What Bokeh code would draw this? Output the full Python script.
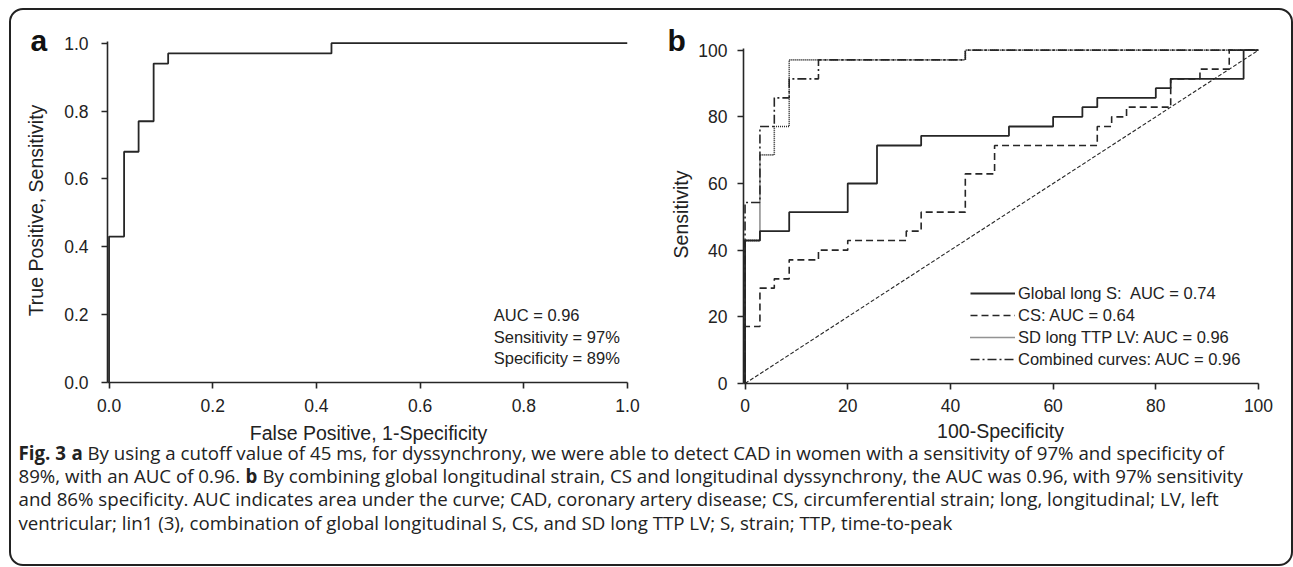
import math
from bokeh.plotting import figure
from bokeh.layouts import row, column
from bokeh.models import (Range1d, FixedTicker, PrintfTickFormatter,
                          InlineStyleSheet, Legend, LegendItem)
from bokeh.core.properties import value
from bokeh.embed import file_html
from bokeh.resources import INLINE

# ---------------- data ----------------
# Panel a: ROC of SD long TTP (false positive rate, sensitivity)
a_fpr = [0.0, 0.029, 0.057, 0.086, 0.114, 0.429, 1.0]
a_tpr = [0.43, 0.68, 0.77, 0.94, 0.97, 1.0, 1.0]
a_stats = ["AUC = 0.96", "Sensitivity = 97%", "Specificity = 89%"]
a_ticks = [0.0, 0.2, 0.4, 0.6, 0.8, 1.0]
a_xtitle = "False Positive, 1-Specificity"
a_ytitle = "True Positive, Sensitivity"

# Panel b: ROC curves (100-specificity, sensitivity)
glob_fpr = [0, 2.9, 8.6, 20.0, 25.7, 34.3, 51.4, 60.0, 65.7, 68.6, 80.0, 82.9, 97.1, 100]
glob_tpr = [42.9, 45.7, 51.4, 60.0, 71.4, 74.3, 77.1, 80.0, 82.9, 85.7, 88.6, 91.4, 100, 100]
cs_fpr = [0, 2.9, 5.7, 8.6, 14.3, 20.0, 31.4, 34.3, 42.9, 48.6, 68.6, 71.4, 74.3, 82.9, 88.6, 94.3, 100]
cs_tpr = [17.1, 28.6, 31.4, 37.1, 40.0, 42.9, 45.7, 51.4, 62.9, 71.4, 77.1, 80.0, 82.9, 91.4, 94.3, 100, 100]
sd_fpr = [0, 2.9, 5.7, 8.6, 42.9, 100]
sd_tpr = [42.9, 68.6, 77.1, 97.1, 100, 100]
comb_fpr = [0, 2.9, 5.7, 8.6, 14.3, 42.9, 100]
comb_tpr = [54.3, 77.1, 85.7, 91.4, 97.1, 100, 100]
ref_line = [0, 100]
b_labels = ["Global long S:  AUC = 0.74", "CS: AUC = 0.64",
            "SD long TTP LV: AUC = 0.96", "Combined curves: AUC = 0.96"]
b_ticks = [0, 20, 40, 60, 80, 100]
b_xtitle = "100-Specificity"
b_ytitle = "Sensitivity"

caption_lines = [
    [("Fig. 3", True), ("a", True), ("By using a cutoff value of 45 ms, for dyssynchrony, we were able to detect CAD in women with a sensitivity of 97% and specificity of", False)],
    [("89%, with an AUC of 0.96.", False), ("b", True), ("By combining global longitudinal strain, CS and longitudinal dyssynchrony, the AUC was 0.96, with 97% sensitivity", False)],
    [("and 86% specificity. AUC indicates area under the curve; CAD, coronary artery disease; CS, circumferential strain; long, longitudinal; LV, left", False)],
    [("ventricular; lin1 (3), combination of global longitudinal S, CS, and SD long TTP LV; S, strain; TTP, time-to-peak", False)],
]
caption_x = [[18, 71, 87], [18, 245, 262], [18], [18]]
caption_y = [34, 57, 80, 103.5]

INK = "#262626"
TXT = "#222222"
AX_FONT = "Liberation Sans"
ROW_H = 418


def no_align(f):
    if "frame_align" in f.properties():
        f.frame_align = False
    return f


def staircase(fpr, tpr):
    xs, ys = [0], [0]
    for f, t in zip(fpr, tpr):
        xs += [f, f]
        ys += [ys[-1], t]
    return xs, ys


def style_axes(p):
    for ax in (p.xaxis[0], p.yaxis[0]):
        ax.axis_line_color = INK
        ax.axis_line_width = 1.6
        ax.major_tick_line_color = INK
        ax.major_tick_line_width = 1.6
        ax.major_tick_out = 6
        ax.major_tick_in = 0
        ax.minor_tick_line_color = None
        ax.major_label_text_font = AX_FONT
        ax.major_label_text_font_size = "17.5px"
        ax.major_label_text_color = TXT
    p.grid.visible = False
    p.outline_line_color = None


def blank(width, height):
    f = figure(width=width, height=height, output_backend="svg",
               toolbar_location=None, title=None,
               x_range=Range1d(0, width), y_range=Range1d(height, 0),
               min_border=0, min_border_left=0, min_border_right=0,
               min_border_top=0, min_border_bottom=0)
    f.axis.visible = False
    f.grid.visible = False
    f.outline_line_color = None
    return no_align(f)


# ---------------- left strips (panel letters, y titles) ----------------
sa = blank(60, ROW_H)
sa.text(x=[30], y=[40], text=["a"], text_font=value(AX_FONT),
        text_font_size="30px", text_font_style="bold", text_color="#111111",
        text_baseline="middle")
sa.text(x=[35], y=[210], text=[a_ytitle], angle=math.pi / 2,
        text_font=value(AX_FONT), text_font_size="19.5px", text_color=TXT,
        text_align="center", text_baseline="middle")

sb = blank(55, ROW_H)
sb.text(x=[27], y=[40], text=["b"], text_font=value(AX_FONT),
        text_font_size="30px", text_font_style="bold", text_color="#111111",
        text_baseline="middle")
sb.text(x=[40], y=[214], text=[b_ytitle], angle=math.pi / 2,
        text_font=value(AX_FONT), text_font_size="19.5px", text_color=TXT,
        text_align="center", text_baseline="middle")

# ---------------- panel a ----------------
pa = figure(width=580, height=ROW_H, output_backend="svg", toolbar_location=None,
            title=None, x_range=Range1d(-0.003, 1.0), y_range=Range1d(0, 1.005),
            min_border_left=47, min_border_right=13, min_border_top=41,
            min_border_bottom=36)
no_align(pa)
pa.xaxis.ticker = FixedTicker(ticks=a_ticks)
pa.yaxis.ticker = FixedTicker(ticks=a_ticks)
pa.xaxis.formatter = PrintfTickFormatter(format="%.1f")
pa.yaxis.formatter = PrintfTickFormatter(format="%.1f")
style_axes(pa)
pa.xaxis.major_label_standoff = 10
pa.yaxis.major_label_standoff = 13

xs, ys = staircase(a_fpr, a_tpr)
pa.line(xs, ys, line_color=INK, line_width=1.8)
pa.text(x=[0.742] * 3, y=[0.200, 0.135, 0.072], text=a_stats,
        text_font=value(AX_FONT), text_font_size="16.5px", text_color=TXT,
        text_baseline="middle")

# ---------------- panel b ----------------
pb = figure(width=598, height=ROW_H, output_backend="svg", toolbar_location=None,
            title=None, x_range=Range1d(-0.3, 100), y_range=Range1d(0, 100.5),
            min_border_left=48, min_border_right=35, min_border_top=48,
            min_border_bottom=35)
no_align(pb)
pb.xaxis.ticker = FixedTicker(ticks=b_ticks)
pb.yaxis.ticker = FixedTicker(ticks=b_ticks)
style_axes(pb)
pb.xaxis.major_label_standoff = 9
pb.yaxis.major_label_standoff = 10

pb.line(ref_line, ref_line, line_color=INK, line_width=1.1, line_dash="4 2")
series = [
    (glob_fpr, glob_tpr, "solid", 1.8),
    (cs_fpr, cs_tpr, "7 4", 1.6),
    (sd_fpr, sd_tpr, "1 1", 1.6),
    (comb_fpr, comb_tpr, "9 3 2 3", 1.6),
]
items = []
for (fx, ty, dash, lw), lab in zip(series, b_labels):
    xs, ys = staircase(fx, ty)
    r = pb.line(xs, ys, line_color=INK, line_width=lw, line_dash=dash)
    items.append(LegendItem(label=lab, renderers=[r]))

leg = Legend(items=items, location=(227, 14), background_fill_alpha=0,
             border_line_color=None, padding=0, margin=0, spacing=2,
             glyph_width=45, glyph_height=20, label_height=20,
             label_standoff=3, label_text_font=AX_FONT,
             label_text_font_size="16.5px", label_text_color=TXT)
pb.add_layout(leg)

# ---------------- bottom: x titles + caption ----------------
pc = blank(1293, 567 - ROW_H)
pc.text(x=[368], y=[14], text=[a_xtitle], text_font=value(AX_FONT),
        text_font_size="19.5px", text_color=TXT, text_align="center",
        text_baseline="middle")
pc.text(x=[1000], y=[12], text=[b_xtitle], text_font=value(AX_FONT),
        text_font_size="19.5px", text_color=TXT, text_align="center",
        text_baseline="middle")
for segs, xpos, yy in zip(caption_lines, caption_x, caption_y):
    for (txt, bold), x0 in zip(segs, xpos):
        pc.text(x=[x0], y=[yy], text=[txt],
                text_font=value("Open Sans"), text_font_size="18.7px",
                text_font_style="bold" if bold else "normal",
                text_color=TXT, text_baseline="middle")

css = InlineStyleSheet(css="""
:host { position: relative; }
:host::after { content: ""; position: absolute; left: 9px; top: 8px;
  width: 1284px; height: 558px; border: 2px solid #222; border-radius: 14px;
  box-sizing: border-box; pointer-events: none; }
""")
layout = column(row(sa, pa, sb, pb), pc, stylesheets=[css])

open("out.html", "w").write(file_html(layout, INLINE))
